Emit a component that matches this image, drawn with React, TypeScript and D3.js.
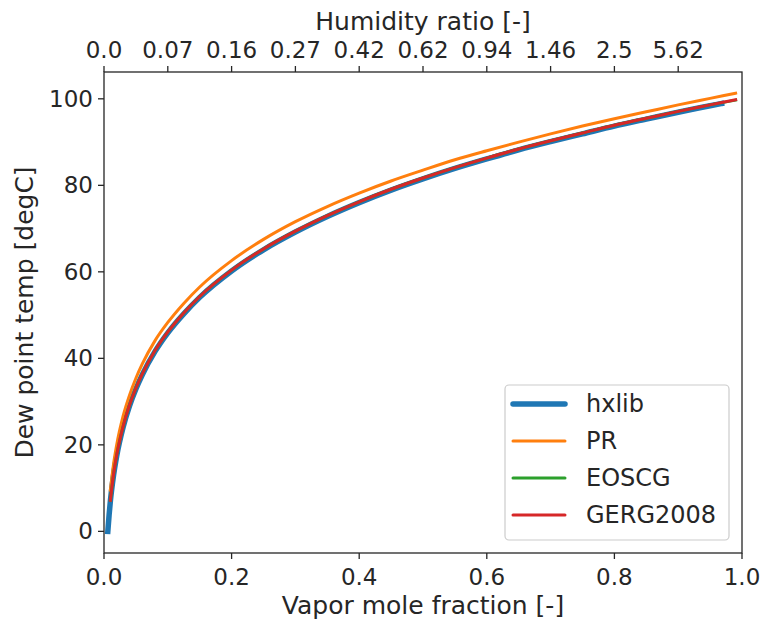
import React from "react";
import * as d3 from "d3";

// vapor mole fraction grid (x) and dew point temps
const gridX = [0.01, 0.015, 0.02, 0.03, 0.04, 0.05, 0.06, 0.08, 0.1, 0.125, 0.15, 0.2, 0.25, 0.3, 0.35, 0.4, 0.45, 0.5, 0.55, 0.6, 0.65, 0.7, 0.75, 0.8, 0.85, 0.9, 0.95, 0.99];

const hxlibX = [0.006, 0.008, 0.01, 0.015, 0.02, 0.03, 0.04, 0.05, 0.06, 0.08, 0.1, 0.125, 0.15, 0.2, 0.25, 0.3, 0.35, 0.4, 0.45, 0.5, 0.55, 0.6, 0.65, 0.7, 0.75, 0.8, 0.85, 0.9, 0.95, 0.968];
const hxlibT = [0.0, 3.8, 7.0, 13.0, 17.5, 24.1, 29.0, 32.9, 36.2, 41.6, 45.9, 50.3, 54.1, 60.2, 65.1, 69.2, 72.8, 76.0, 78.9, 81.5, 83.9, 86.1, 88.2, 90.1, 91.9, 93.7, 95.3, 96.9, 98.4, 98.9];
const prT = [9.5, 15.6, 20.1, 26.7, 31.5, 35.4, 38.7, 44.1, 48.3, 52.7, 56.5, 62.6, 67.5, 71.6, 75.1, 78.2, 81.0, 83.5, 85.9, 88.0, 90.0, 91.9, 93.7, 95.4, 97.0, 98.6, 100.1, 101.3];
const eoscgT = [7.2, 13.2, 17.7, 24.3, 29.2, 33.1, 36.4, 41.8, 46.1, 50.5, 54.3, 60.4, 65.3, 69.4, 73.0, 76.2, 79.1, 81.7, 84.1, 86.3, 88.4, 90.3, 92.1, 93.9, 95.5, 97.1, 98.6, 99.7];
const gergT = [7.2, 13.2, 17.7, 24.3, 29.2, 33.1, 36.4, 41.8, 46.1, 50.5, 54.3, 60.4, 65.3, 69.4, 73.0, 76.2, 79.1, 81.7, 84.1, 86.3, 88.4, 90.3, 92.1, 93.9, 95.5, 97.1, 98.6, 99.8];

const seriesNames = ["hxlib", "PR", "EOSCG", "GERG2008"];
const seriesColors = ["#1f77b4", "#ff7f0e", "#2ca02c", "#d62728"];
const seriesWidths = [5.5, 3, 3, 3];

const bottomTicks = [0, 0.2, 0.4, 0.6, 0.8, 1.0];
const leftTicks = [0, 20, 40, 60, 80, 100];
const topTickPos = [0, 0.1, 0.2, 0.3, 0.4, 0.5, 0.6, 0.7, 0.8, 0.9];
const topTickLabels = ["0.0", "0.07", "0.16", "0.27", "0.42", "0.62", "0.94", "1.46", "2.5", "5.62"];

const W = 763;
const H = 621;
const plot = { left: 104, right: 742, top: 72, bottom: 553 };
const ink = "#262626";
const font = "'DejaVu Sans', sans-serif";

export default function App() {
  const x = d3.scaleLinear().domain([0, 1]).range([plot.left, plot.right]);
  const y = d3.scaleLinear().domain([-5.0, 106.2]).range([plot.bottom, plot.top]);

  const line = d3
    .line<[number, number]>()
    .x((d) => x(d[0]))
    .y((d) => y(d[1]))
    .curve(d3.curveMonotoneX);

  const series = [
    hxlibX.map((v, i) => [v, hxlibT[i]] as [number, number]),
    gridX.map((v, i) => [v, prT[i]] as [number, number]),
    gridX.map((v, i) => [v, eoscgT[i]] as [number, number]),
    gridX.map((v, i) => [v, gergT[i]] as [number, number]),
  ];

  const tickLen = 6;
  const legend = { x: 505, y: 385, w: 224, h: 155 };
  const rowY = (i: number) => legend.y + 19 + i * 37;

  return (
    <svg width={W} height={H} style={{ position: "absolute", left: 0, top: 0, background: "#fff" }} fontFamily={font}>
      <rect width={W} height={H} fill="#fff" />
      {series.map((s, i) => (
        <path key={seriesNames[i]} d={line(s) || ""} fill="none" stroke={seriesColors[i]} strokeWidth={seriesWidths[i]} strokeLinecap="square" />
      ))}

      {/* spines */}
      <rect x={plot.left} y={plot.top} width={plot.right - plot.left} height={plot.bottom - plot.top} fill="none" stroke={ink} strokeWidth={1.3} />

      {/* bottom axis */}
      {bottomTicks.map((t) => (
        <g key={"b" + t}>
          <line x1={x(t)} x2={x(t)} y1={plot.bottom} y2={plot.bottom + tickLen} stroke={ink} strokeWidth={1.3} />
          <text x={x(t)} y={plot.bottom + 32} textAnchor="middle" fontSize={23} fill={ink}>
            {d3.format(".1f")(t)}
          </text>
        </g>
      ))}
      <text x={(plot.left + plot.right) / 2} y={614} textAnchor="middle" fontSize={25} fill={ink}>
        Vapor mole fraction [-]
      </text>

      {/* left axis */}
      {leftTicks.map((t) => (
        <g key={"l" + t}>
          <line x1={plot.left - tickLen} x2={plot.left} y1={y(t)} y2={y(t)} stroke={ink} strokeWidth={1.3} />
          <text x={plot.left - 11} y={y(t)} dy="0.35em" textAnchor="end" fontSize={23} fill={ink}>
            {t}
          </text>
        </g>
      ))}
      <text transform={`translate(33, ${(plot.top + plot.bottom) / 2}) rotate(-90)`} textAnchor="middle" fontSize={25} fill={ink}>
        Dew point temp [degC]
      </text>

      {/* top axis: humidity ratio */}
      {topTickPos.map((t, i) => (
        <g key={"t" + t}>
          <line x1={x(t)} x2={x(t)} y1={plot.top} y2={plot.top - tickLen} stroke={ink} strokeWidth={1.3} />
          <text x={x(t)} y={plot.top - 14} textAnchor="middle" fontSize={23} fill={ink}>
            {topTickLabels[i]}
          </text>
        </g>
      ))}
      <text x={(plot.left + plot.right) / 2} y={30} textAnchor="middle" fontSize={25} fill={ink}>
        Humidity ratio [-]
      </text>

      {/* legend */}
      <rect x={legend.x} y={legend.y} width={legend.w} height={legend.h} rx={4} fill="#fff" fillOpacity={0.8} stroke="#cccccc" strokeWidth={1.2} />
      {seriesNames.map((name, i) => (
        <g key={"lg" + name}>
          <line x1={legend.x + 8} x2={legend.x + 60} y1={rowY(i)} y2={rowY(i)} stroke={seriesColors[i]} strokeWidth={seriesWidths[i]} strokeLinecap="round" />
          <text x={legend.x + 81} y={rowY(i)} dy="0.35em" fontSize={24} fill={ink}>
            {name}
          </text>
        </g>
      ))}
    </svg>
  );
}
